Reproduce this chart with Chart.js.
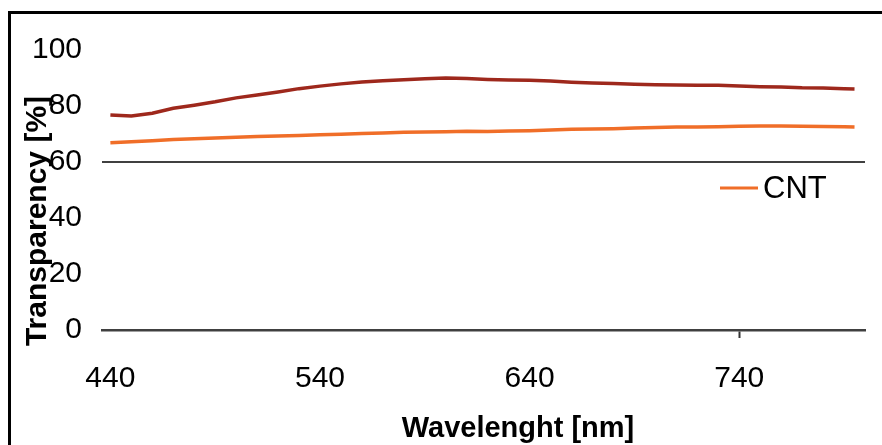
<!DOCTYPE html>
<html>
<head>
<meta charset="utf-8">
<script src="https://cdn.jsdelivr.net/npm/chart.js@4.4.1/dist/chart.umd.min.js"></script>
<style>
    body { margin: 0; background: #fff; }
    #wrap { position: relative; width: 882px; height: 445px; overflow: hidden; }
    #frame { position: absolute; left: 8px; top: 11px; width: 900px; height: 460px;
             border-top: 3px solid #000; border-left: 3px solid #000; }
    #chart { position: absolute; left: 0; top: 0; }
</style>
</head>
<body>
<div id="wrap">
    <div id="frame"></div>
    <canvas id="chart" width="882" height="445"></canvas>
</div>
<script>
const wavelengths = [440, 450, 460, 470, 480, 490, 500, 510, 520, 530, 540, 550, 560, 570, 580, 590,
    600, 610, 620, 630, 640, 650, 660, 670, 680, 690, 700, 710, 720, 730, 740, 750, 760, 770, 780, 790, 795]

const refValues = [76.8, 76.4, 77.4, 79.2, 80.3, 81.5, 82.9, 83.9, 85.0, 86.2, 87.1, 87.9, 88.6, 89.0, 89.4, 89.7,
    90.0, 89.8, 89.5, 89.3, 89.2, 88.9, 88.5, 88.2, 88.0, 87.8, 87.6, 87.5, 87.4, 87.4, 87.1, 86.9, 86.8, 86.5, 86.4, 86.2, 86.1]

const cntValues = [66.9, 67.2, 67.6, 68.0, 68.3, 68.6, 68.8, 69.1, 69.3, 69.5, 69.7, 69.9, 70.2, 70.4, 70.6, 70.7,
    70.8, 71.0, 70.9, 71.1, 71.2, 71.4, 71.7, 71.8, 71.9, 72.1, 72.3, 72.5, 72.5, 72.6, 72.8, 72.9, 72.9, 72.8, 72.7, 72.6, 72.5]

const xTicks = [440, 540, 640, 740]
const yTicks = [0, 20, 40, 60, 80, 100]

const numFont = '"Liberation Sans", Arial, sans-serif'
const titleFont = '"Liberation Sans", Arial, sans-serif'

function toPoints(vals) {
    return wavelengths.map((w, i) => ({x: w, y: vals[i]}))
}

// axis titles, legend drawn by hand so they sit where the original has them
const extras = {
    id: 'extras',
    afterDraw(chart) {
        const c = chart.ctx
        c.save()
        c.fillStyle = '#000'
        c.font = 'bold 29px ' + titleFont
        c.textAlign = 'center'
        c.textBaseline = 'alphabetic'
        c.fillText('Wavelenght [nm]', 518, 437)

        c.font = 'bold 30px ' + titleFont
        c.translate(46, 221)
        c.rotate(-Math.PI / 2)
        c.fillText('Transparency [%]', 0, 0)
        c.restore()

        // legend: only the CNT series is listed
        const ds = chart.data.datasets[1]
        c.save()
        c.strokeStyle = ds.borderColor
        c.lineWidth = 3
        c.beginPath()
        c.moveTo(720, 188)
        c.lineTo(758, 188)
        c.stroke()
        c.fillStyle = '#000'
        c.font = '31px ' + numFont
        c.textAlign = 'left'
        c.textBaseline = 'middle'
        c.fillText(ds.label, 763, 189)
        c.restore()
    }
}

new Chart(document.getElementById('chart'), {
    type: 'line',
    data: {
        datasets: [
            {label: 'Reference', data: toPoints(refValues), borderColor: 'rgb(158, 40, 28)', borderWidth: 3.5, pointRadius: 0, tension: 0},
            {label: 'CNT', data: toPoints(cntValues), borderColor: 'rgb(240, 110, 40)', borderWidth: 3.5, pointRadius: 0, tension: 0}
        ]
    },
    options: {
        responsive: false,
        animation: false,
        layout: {padding: {top: 50, right: 17, left: 0, bottom: 0}},
        plugins: {legend: {display: false}, tooltip: {enabled: false}},
        scales: {
            x: {
                type: 'linear',
                min: 436,
                max: 800,
                afterBuildTicks: s => { s.ticks = xTicks.map(v => ({value: v})) },
                afterFit: s => { s.height = 115 },
                ticks: {color: '#000', font: {family: numFont, size: 30}, padding: 23, maxRotation: 0},
                grid: {drawOnChartArea: false, drawTicks: true, tickLength: 8, tickWidth: 2,
                       tickColor: ctx => ctx.tick && ctx.tick.value === 740 ? '#333' : 'rgba(0,0,0,0)'},
                border: {display: true, color: '#404040', width: 2.5}
            },
            y: {
                min: 0,
                max: 100,
                afterBuildTicks: s => { s.ticks = yTicks.map(v => ({value: v})) },
                afterFit: s => { s.width = 102 },
                ticks: {color: '#000', font: {family: numFont, size: 30}, padding: 20},
                grid: {drawTicks: false, lineWidth: 2,
                       color: ctx => ctx.tick && ctx.tick.value === 60 ? '#404040' : 'rgba(0,0,0,0)'},
                border: {display: false}
            }
        }
    },
    plugins: [extras]
})
</script>
</body>
</html>
